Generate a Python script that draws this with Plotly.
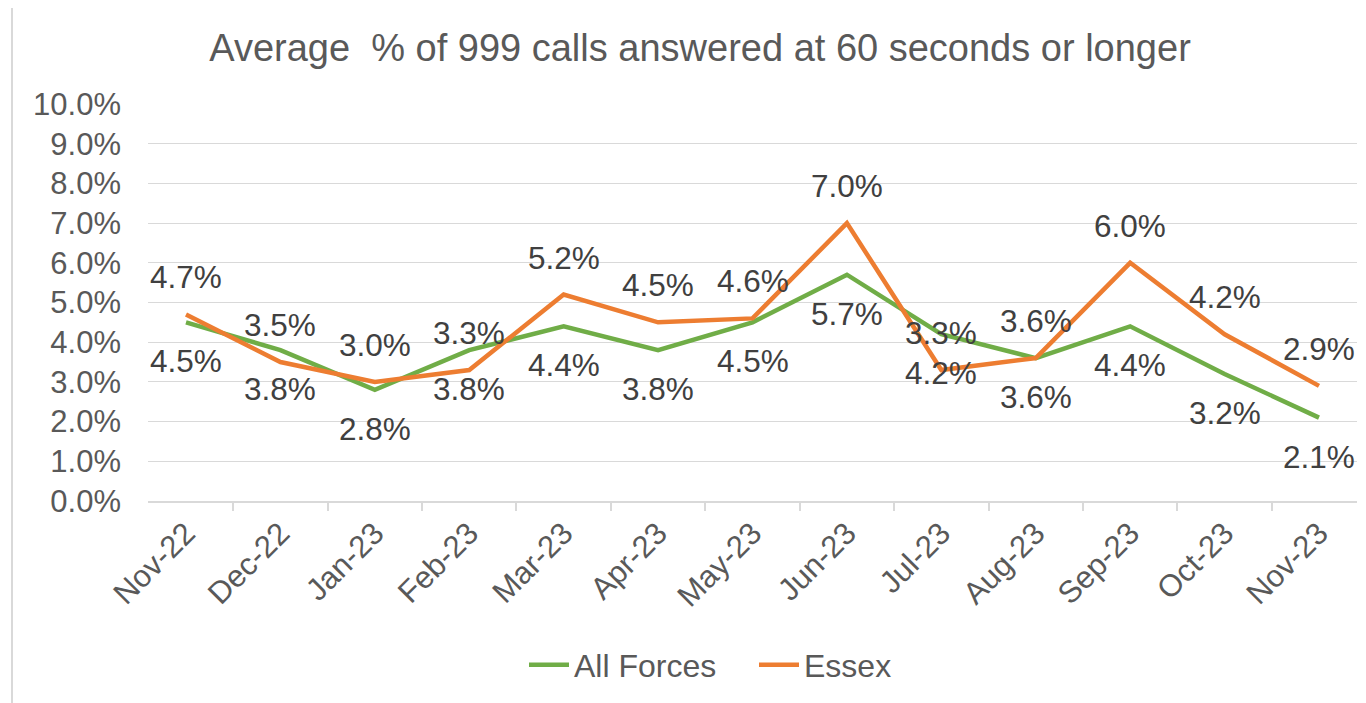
import plotly.graph_objects as go

months = ["Nov-22", "Dec-22", "Jan-23", "Feb-23", "Mar-23", "Apr-23", "May-23",
          "Jun-23", "Jul-23", "Aug-23", "Sep-23", "Oct-23", "Nov-23"]
all_forces = [4.5, 3.8, 2.8, 3.8, 4.4, 3.8, 4.5, 5.7, 4.2, 3.6, 4.4, 3.2, 2.1]
essex = [4.7, 3.5, 3.0, 3.3, 5.2, 4.5, 4.6, 7.0, 3.3, 3.6, 6.0, 4.2, 2.9]
y_ticks = [0, 1, 2, 3, 4, 5, 6, 7, 8, 9, 10]

GREEN = "#70AD47"
ORANGE = "#ED7D31"
FONT = "Liberation Sans, Arial, sans-serif"

# page body has an 8px margin; figure is sized to compensate
W, H = 1358, 695

fig = go.Figure()
fig.add_trace(go.Scatter(x=months, y=all_forces, mode="lines", name="All Forces",
                         line=dict(color=GREEN, width=4.5)))
fig.add_trace(go.Scatter(x=months, y=essex, mode="lines", name="Essex",
                         line=dict(color=ORANGE, width=4.5)))

annotations = []
for m, v in zip(months, essex):
    annotations.append(dict(x=m, y=v, xref="x", yref="y", text=f"{v:.1f}%",
                            showarrow=False, yshift=37,
                            font=dict(size=31.5, color="#404040", family=FONT)))
for m, v in zip(months, all_forces):
    annotations.append(dict(x=m, y=v, xref="x", yref="y", text=f"{v:.1f}%",
                            showarrow=False, yshift=-39,
                            font=dict(size=31.5, color="#404040", family=FONT)))

fig.update_layout(
    width=W, height=H,
    margin=dict(l=140, r=9, t=96, b=202, autoexpand=False),
    paper_bgcolor="white", plot_bgcolor="white",
    font=dict(family=FONT, color="#595959"),
    title=dict(text="Average  % of 999 calls answered at 60 seconds or longer",
               x=692 / W, xref="container", xanchor="center",
               y=1 - 40 / H, yref="container", yanchor="middle",
               font=dict(size=38, color="#595959", family=FONT)),
    showlegend=True,
    legend=dict(orientation="h", x=(532 - 8 - 8 - 140) / 1209, xanchor="left",
                y=-0.413, yanchor="middle",
                font=dict(size=32, color="#595959", family=FONT),
                itemwidth=40, tracegroupgap=0, entrywidth=175, entrywidthmode="pixels"),
    annotations=annotations,
    shapes=[dict(type="rect", xref="paper", yref="paper",
                 x0=(12 - 148) / 1209, x1=1.2, y0=-1.0, y1=(501 - 6) / 397,
                 line=dict(color="#D9D9D9", width=2), layer="below")],
)
fig.update_xaxes(
    type="category", tickangle=-45, showgrid=False, automargin=False,
    showline=True, linecolor="#D9D9D9", linewidth=1.5,
    ticks="outside", tickson="boundaries", ticklen=8, tickcolor="#D9D9D9", tickwidth=1.5,
    tickfont=dict(size=31, color="#595959", family=FONT),
)
fig.update_yaxes(
    range=[0, 10], tickvals=y_ticks, ticktext=[f"{t:.1f}%" for t in y_ticks],
    showgrid=True, gridcolor="#D9D9D9", gridwidth=1.3, zeroline=False, automargin=False,
    showline=False, ticks="", ticklabelstandoff=26,
    tickfont=dict(size=31, color="#595959", family=FONT),
)

fig.write_html("out.html")
